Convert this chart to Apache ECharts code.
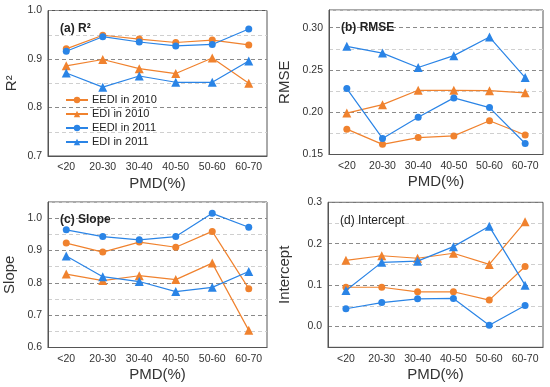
<!DOCTYPE html>
<html>
<head>
<meta charset="utf-8">
<script src="https://cdn.jsdelivr.net/npm/echarts@6/dist/echarts.min.js"></script>
<style>html,body{margin:0;padding:0;background:#fff;}#c{width:550px;height:387px;}</style>
</head>
<body>
<div id="c"></div>
<script>
const categories = ['<20', '20-30', '30-40', '40-50', '50-60', '60-70'];
const seriesNames = ['EEDI in 2010', 'EDI in 2010', 'EEDI in 2011', 'EDI in 2011'];

// (a) R2
const r2_EEDI2010 = [0.921, 0.949, 0.941, 0.934, 0.939, 0.929];
const r2_EDI2010  = [0.886, 0.899, 0.880, 0.870, 0.902, 0.850];
const r2_EEDI2011 = [0.916, 0.946, 0.935, 0.927, 0.930, 0.962];
const r2_EDI2011  = [0.871, 0.842, 0.865, 0.852, 0.852, 0.896];

// (b) RMSE
const rmse_EEDI2010 = [0.180, 0.162, 0.170, 0.172, 0.190, 0.173];
const rmse_EDI2010  = [0.199, 0.209, 0.226, 0.226, 0.2255, 0.223];
const rmse_EEDI2011 = [0.228, 0.169, 0.194, 0.217, 0.2055, 0.163];
const rmse_EDI2011  = [0.278, 0.270, 0.253, 0.267, 0.289, 0.241];

// (c) Slope
const slope_EEDI2010 = [0.923, 0.895, 0.926, 0.910, 0.959, 0.782];
const slope_EDI2010  = [0.827, 0.807, 0.822, 0.810, 0.861, 0.653];
const slope_EEDI2011 = [0.964, 0.943, 0.933, 0.943, 1.015, 0.972];
const slope_EDI2011  = [0.883, 0.819, 0.804, 0.773, 0.786, 0.835];

// (d) Intercept
const icpt_EEDI2010 = [0.095, 0.095, 0.084, 0.084, 0.064, 0.145];
const icpt_EDI2010  = [0.160, 0.171, 0.165, 0.177, 0.150, 0.253];
const icpt_EEDI2011 = [0.043, 0.058, 0.067, 0.068, 0.003, 0.051];
const icpt_EDI2011  = [0.087, 0.155, 0.158, 0.193, 0.242, 0.100];

const ORANGE = '#f0822e';
const BLUE = '#2a84e6';
const FONT = 'Liberation Sans, Arial, sans-serif';

const panels = [
  {title: '(a) R²', yName: 'R²', min: 0.7, max: 1.0, interval: 0.05, labStep: 0.1, dec: 1,
   colors: ['#8a8a8a', '#cfcfcf'], data: [r2_EEDI2010, r2_EDI2010, r2_EEDI2011, r2_EDI2011],
   grid: {left: 48, top: 10.5, width: 219, height: 145.5}, nameGap: 29, bold: 'bold'},
  {title: '(b) RMSE', yName: 'RMSE', min: 0.15, max: 0.321, interval: 0.025, labStep: 0.05, dec: 2,
   colors: ['#8a8a8a', '#cfcfcf'], data: [rmse_EEDI2010, rmse_EDI2010, rmse_EEDI2011, rmse_EDI2011],
   grid: {left: 329, top: 10, width: 214, height: 144.5}, nameGap: 37, bold: 'bold'},
  {title: '(c) Slope', yName: 'Slope', min: 0.6, max: 1.05, interval: 0.05, labStep: 0.1, dec: 1,
   colors: ['#8a8a8a', '#cfcfcf'], data: [slope_EEDI2010, slope_EDI2010, slope_EEDI2011, slope_EDI2011],
   grid: {left: 48, top: 202, width: 219, height: 145.5}, nameGap: 31, bold: 'bold'},
  {title: '(d) Intercept', yName: 'Intercept', min: -0.05, max: 0.3, interval: 0.05, labStep: 0.1, dec: 1,
   colors: ['#cfcfcf', '#8a8a8a'], data: [icpt_EEDI2010, icpt_EDI2010, icpt_EEDI2011, icpt_EDI2011],
   grid: {left: 328, top: 202.3, width: 215, height: 145}, nameGap: 36, bold: 'normal'}
];

const styles = [
  {color: ORANGE, symbol: 'circle', size: 7},
  {color: ORANGE, symbol: 'triangle', size: 9},
  {color: BLUE, symbol: 'circle', size: 7},
  {color: BLUE, symbol: 'triangle', size: 9}
];

const grids = [], xAxes = [], yAxes = [], series = [], titles = [];
panels.forEach((p, i) => {
  grids.push(Object.assign({show: true, borderColor: '#555', borderWidth: 1, containLabel: false}, p.grid));
  titles.push({text: p.title, left: p.grid.left + 7, top: p.grid.top + 7,
    textStyle: {fontFamily: FONT, fontSize: 12, fontWeight: p.bold, color: '#222'}});
  xAxes.push({type: 'category', gridIndex: i, data: categories, boundaryGap: true,
    name: 'PMD(%)', nameLocation: 'middle', nameGap: 20,
    nameTextStyle: {fontFamily: FONT, fontSize: 15, color: '#333'},
    axisLine: {show: true, onZero: false, lineStyle: {color: '#555', width: 1}},
    axisTick: {show: false},
    axisLabel: {fontFamily: FONT, fontSize: 10.5, color: '#333', margin: 6, interval: 0},
    splitLine: {show: false}});
  yAxes.push({type: 'value', gridIndex: i, min: p.min, max: p.max, interval: p.interval,
    name: p.yName, nameLocation: 'middle', nameGap: p.nameGap, nameRotate: 90,
    nameTextStyle: {fontFamily: FONT, fontSize: 15, color: '#333'},
    axisLine: {show: true, onZero: false, lineStyle: {color: '#555', width: 1}},
    axisTick: {show: false},
    axisLabel: {fontFamily: FONT, fontSize: 10.5, color: '#333', margin: 6, showMaxLabel: true, showMinLabel: true,
      formatter: v => {
        const r = v / p.labStep;
        if (Math.abs(r - Math.round(r)) < 1e-6) {
          return (Math.abs(v) < 1e-9 ? 0 : v).toFixed(p.dec);
        }
        return '';
      }},
    splitLine: {show: true, lineStyle: {color: p.colors, type: [4, 3], width: 1.2}}});
  p.data.forEach((d, k) => {
    const s = styles[k];
    series.push({type: 'line', name: seriesNames[k], xAxisIndex: i, yAxisIndex: i, data: d,
      symbol: s.symbol, symbolSize: s.size, showSymbol: true,
      lineStyle: {color: s.color, width: 1.2}, itemStyle: {color: s.color},
      animation: false, z: k === 2 || k === 3 ? 3 : 2});
  });
});

const chart = echarts.init(document.getElementById('c'), null, {renderer: 'canvas'});
chart.setOption({
  backgroundColor: '#fff',
  animation: false,
  title: titles,
  grid: grids,
  xAxis: xAxes,
  yAxis: yAxes,
  legend: {data: seriesNames, orient: 'vertical', left: 65, top: 94, padding: 0,
    itemWidth: 22, itemHeight: 8, itemGap: 2, selectedMode: false,
    textStyle: {fontFamily: FONT, fontSize: 11, color: '#222', lineHeight: 12, padding: [0, 0, 0, -1]}},
  series: series
});
</script>
</body>
</html>
